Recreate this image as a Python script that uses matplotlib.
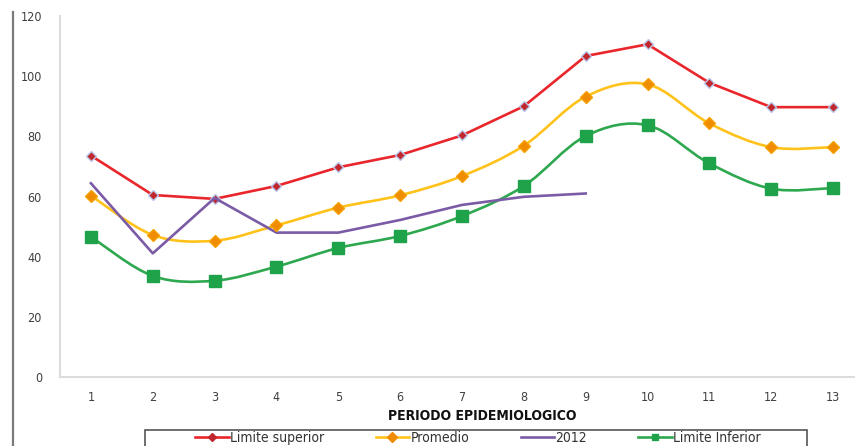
import matplotlib
matplotlib.use("Agg")
import matplotlib.pyplot as plt
from matplotlib.path import Path
from matplotlib.patches import PathPatch, Rectangle
from matplotlib.lines import Line2D

periodos = [1, 2, 3, 4, 5, 6, 7, 8, 9, 10, 11, 12, 13]
limite_superior = [73.6, 60.5, 59.2, 63.5, 69.7, 73.8, 80.3, 90.0, 106.7, 110.6, 97.8, 89.7, 89.7]
promedio = [60.3, 47.2, 45.3, 50.4, 56.3, 60.4, 66.8, 76.9, 93.2, 97.3, 84.3, 76.4, 76.4]
periodos_2012 = [1, 2, 3, 4, 5, 6, 7, 8, 9]
serie_2012 = [64.4, 41.1, 59.5, 48.0, 48.0, 52.2, 57.2, 59.9, 61.0]
limite_inferior = [46.6, 33.6, 32.0, 36.7, 42.9, 46.9, 53.5, 63.5, 80.1, 83.7, 71.0, 62.6, 62.8]

plt.rcParams['font.family'] = ['DejaVu Sans']
plt.rcParams['font.stretch'] = 'condensed'


def curva_suave(ax, xs, ys, color, lw):
    # linea suavizada tipo Excel (Bezier cubica por tramos)
    n = len(xs)
    verts = [(xs[0], ys[0])]
    codes = [Path.MOVETO]
    for i in range(n - 1):
        x0, y0 = xs[max(i - 1, 0)], ys[max(i - 1, 0)]
        x1, y1 = xs[i], ys[i]
        x2, y2 = xs[i + 1], ys[i + 1]
        x3, y3 = xs[min(i + 2, n - 1)], ys[min(i + 2, n - 1)]
        c1 = (x1 + (x2 - x0) / 6.0, y1 + (y2 - y0) / 6.0)
        c2 = (x2 - (x3 - x1) / 6.0, y2 - (y3 - y1) / 6.0)
        verts += [c1, c2, (x2, y2)]
        codes += [Path.CURVE4] * 3
    ax.add_patch(PathPatch(Path(verts, codes), facecolor='none', edgecolor=color,
                           lw=lw, capstyle='round', joinstyle='round', zorder=2))


fig = plt.figure(figsize=(8.55, 4.46), dpi=100)
ax = fig.add_axes([60 / 855, 69 / 446, 804 / 855, 361 / 446])

# Limite superior (rojo, tramos rectos)
ax.plot(periodos, limite_superior, color='#E8262B', lw=1.9, zorder=3,
        marker='D', markersize=5, markerfacecolor='#C0282D',
        markeredgecolor='#B8C8EC', markeredgewidth=1.0)

# Promedio (amarillo, suavizado)
curva_suave(ax, periodos, promedio, '#FFC21A', 1.9)
ax.plot(periodos, promedio, ls='none', marker='D', markersize=6,
        markerfacecolor='#F08C00', markeredgecolor='#F5A000', zorder=4)

# 2012 (morado)
ax.plot(periodos_2012, serie_2012, color='#7B5BA6', lw=1.9, zorder=3)

# Limite inferior (verde, suavizado)
curva_suave(ax, periodos, limite_inferior, '#2EA84F', 1.9)
ax.plot(periodos, limite_inferior, ls='none', marker='s', markersize=8,
        markerfacecolor='#1FA34A', markeredgecolor='#1FA34A', zorder=4)

ax.set_xlim(0.5, 13.5)
ax.set_ylim(0, 120)
ax.set_xticks(periodos)
ax.set_yticks(range(0, 121, 20))
ax.tick_params(axis='both', length=0, labelsize=9, colors='#404040')
ax.tick_params(axis='x', pad=10)
ax.tick_params(axis='y', pad=13)
for s in ['top', 'right']:
    ax.spines[s].set_visible(False)
for s in ['left', 'bottom']:
    ax.spines[s].set_color('#DCDCDC')
    ax.spines[s].set_linewidth(1.5)

fig.text(482 / 855, 1 - 416 / 446, 'PERIODO EPIDEMIOLOGICO', ha='center', va='center',
         fontsize=10, fontweight='bold', color='#111111')

# borde de pagina a la izquierda
fig.add_artist(Line2D([13 / 855, 13 / 855], [0, 1 - 12 / 446], color='#7A7A7A', lw=1.6))

handles = [
    Line2D([], [], color='#E8262B', lw=1.9, marker='D', markersize=4,
           markerfacecolor='#C0282D', markeredgecolor='#C0282D'),
    Line2D([], [], color='#FFC21A', lw=1.9, marker='D', markersize=5,
           markerfacecolor='#F08C00', markeredgecolor='#F08C00'),
    Line2D([], [], color='#7B5BA6', lw=1.9),
    Line2D([], [], color='#2EA84F', lw=1.9, marker='s', markersize=5,
           markerfacecolor='#1FA34A', markeredgecolor='#1FA34A'),
]
etiquetas = ['Limite superior', 'Promedio', '2012', 'Limite Inferior']
fig.legend(handles, etiquetas, ncol=4, loc='center',
           bbox_to_anchor=(478 / 855, 1 - 438 / 446), frameon=False,
           fontsize=10, handlelength=2.4, handletextpad=0.1, columnspacing=3.7,
           borderpad=0, borderaxespad=0, labelcolor='#333333')

# marco de la leyenda
fig.add_artist(Rectangle((145 / 855, -0.02), (807 - 145) / 855, 0.02 + 16 / 446,
                         transform=fig.transFigure, facecolor='none',
                         edgecolor='#555555', lw=1.2))

fig.savefig('out.png', dpi=100)
